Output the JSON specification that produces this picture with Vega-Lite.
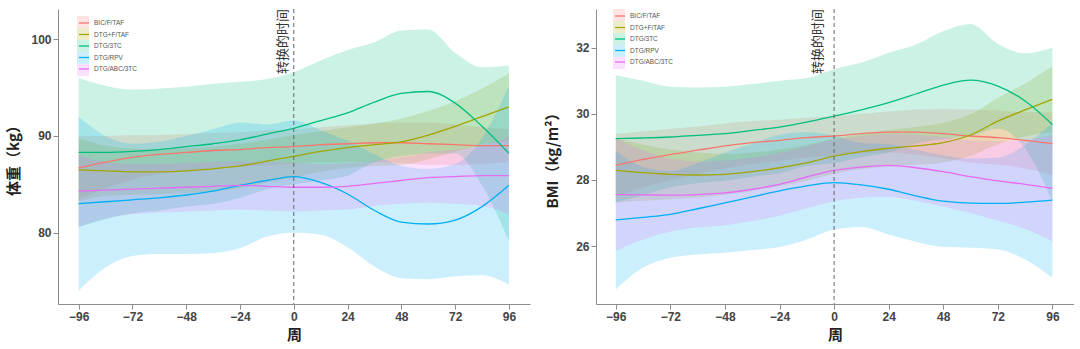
{
"$schema": "https://vega.github.io/schema/vega-lite/v6.json",
"background": "white",
"padding": {"left": 6, "top": 8, "right": 0, "bottom": 0},
"spacing": 15,
"datasets": {
"w": [
{"g":"BIC/F/TAF","wk":-96,"y":86.7,"hi":90.0,"lo":83.4},{"g":"BIC/F/TAF","wk":-84,"y":87.3,"hi":90.0,"lo":84.6},{"g":"BIC/F/TAF","wk":-72,"y":87.8,"hi":90.1,"lo":85.5},{"g":"BIC/F/TAF","wk":-60,"y":88.1,"hi":90.1,"lo":86.1},{"g":"BIC/F/TAF","wk":-48,"y":88.3,"hi":90.2,"lo":86.4},{"g":"BIC/F/TAF","wk":-36,"y":88.5,"hi":90.3,"lo":86.7},{"g":"BIC/F/TAF","wk":-24,"y":88.6,"hi":90.4,"lo":86.8},{"g":"BIC/F/TAF","wk":-12,"y":88.8,"hi":90.6,"lo":87.0},{"g":"BIC/F/TAF","wk":0,"y":88.9,"hi":90.7,"lo":87.1},{"g":"BIC/F/TAF","wk":12,"y":89.1,"hi":90.9,"lo":87.3},{"g":"BIC/F/TAF","wk":24,"y":89.2,"hi":91.1,"lo":87.3},{"g":"BIC/F/TAF","wk":36,"y":89.3,"hi":91.3,"lo":87.3},{"g":"BIC/F/TAF","wk":48,"y":89.3,"hi":91.4,"lo":87.2},{"g":"BIC/F/TAF","wk":60,"y":89.2,"hi":91.4,"lo":87.0},{"g":"BIC/F/TAF","wk":72,"y":89.1,"hi":91.2,"lo":87.0},{"g":"BIC/F/TAF","wk":84,"y":89.0,"hi":90.9,"lo":87.1},{"g":"BIC/F/TAF","wk":96,"y":89.0,"hi":90.7,"lo":87.3},
{"g":"DTG+F/TAF","wk":-96,"y":86.5,"hi":89.8,"lo":83.2},{"g":"DTG+F/TAF","wk":-84,"y":86.4,"hi":89.0,"lo":83.8},{"g":"DTG+F/TAF","wk":-72,"y":86.3,"hi":88.7,"lo":83.9},{"g":"DTG+F/TAF","wk":-60,"y":86.3,"hi":88.6,"lo":84.0},{"g":"DTG+F/TAF","wk":-48,"y":86.4,"hi":88.7,"lo":84.1},{"g":"DTG+F/TAF","wk":-36,"y":86.6,"hi":88.9,"lo":84.3},{"g":"DTG+F/TAF","wk":-24,"y":86.9,"hi":89.2,"lo":84.6},{"g":"DTG+F/TAF","wk":-12,"y":87.4,"hi":89.6,"lo":85.2},{"g":"DTG+F/TAF","wk":0,"y":87.9,"hi":90.1,"lo":85.7},{"g":"DTG+F/TAF","wk":12,"y":88.4,"hi":90.5,"lo":86.3},{"g":"DTG+F/TAF","wk":24,"y":88.8,"hi":90.9,"lo":86.7},{"g":"DTG+F/TAF","wk":36,"y":89.1,"hi":91.3,"lo":86.9},{"g":"DTG+F/TAF","wk":48,"y":89.4,"hi":91.8,"lo":87.0},{"g":"DTG+F/TAF","wk":60,"y":90.1,"hi":92.6,"lo":87.6},{"g":"DTG+F/TAF","wk":72,"y":91.0,"hi":93.6,"lo":88.4},{"g":"DTG+F/TAF","wk":84,"y":92.0,"hi":94.9,"lo":89.1},{"g":"DTG+F/TAF","wk":96,"y":93.0,"hi":96.5,"lo":89.5},
{"g":"DTG/3TC","wk":-96,"y":88.3,"hi":96.0,"lo":80.6},{"g":"DTG/3TC","wk":-84,"y":88.3,"hi":95.2,"lo":81.4},{"g":"DTG/3TC","wk":-72,"y":88.4,"hi":94.8,"lo":82.0},{"g":"DTG/3TC","wk":-60,"y":88.6,"hi":94.9,"lo":82.3},{"g":"DTG/3TC","wk":-48,"y":88.9,"hi":95.1,"lo":82.7},{"g":"DTG/3TC","wk":-36,"y":89.2,"hi":95.4,"lo":83.0},{"g":"DTG/3TC","wk":-24,"y":89.6,"hi":95.6,"lo":83.6},{"g":"DTG/3TC","wk":-12,"y":90.2,"hi":95.9,"lo":84.5},{"g":"DTG/3TC","wk":0,"y":90.8,"hi":96.6,"lo":85.0},{"g":"DTG/3TC","wk":12,"y":91.6,"hi":97.8,"lo":85.4},{"g":"DTG/3TC","wk":24,"y":92.4,"hi":98.9,"lo":85.9},{"g":"DTG/3TC","wk":36,"y":93.5,"hi":99.7,"lo":87.3},{"g":"DTG/3TC","wk":48,"y":94.4,"hi":100.9,"lo":87.9},{"g":"DTG/3TC","wk":60,"y":94.6,"hi":101.0,"lo":88.2},{"g":"DTG/3TC","wk":72,"y":93.4,"hi":98.6,"lo":88.2},{"g":"DTG/3TC","wk":84,"y":91.0,"hi":97.1,"lo":84.9},{"g":"DTG/3TC","wk":96,"y":88.2,"hi":97.3,"lo":79.1},
{"g":"DTG/RPV","wk":-96,"y":83.0,"hi":92.0,"lo":74.0},{"g":"DTG/RPV","wk":-84,"y":83.2,"hi":90.0,"lo":76.4},{"g":"DTG/RPV","wk":-72,"y":83.4,"hi":89.2,"lo":77.6},{"g":"DTG/RPV","wk":-60,"y":83.6,"hi":89.4,"lo":77.8},{"g":"DTG/RPV","wk":-48,"y":83.9,"hi":90.0,"lo":77.8},{"g":"DTG/RPV","wk":-36,"y":84.3,"hi":90.7,"lo":77.9},{"g":"DTG/RPV","wk":-24,"y":84.9,"hi":91.4,"lo":78.4},{"g":"DTG/RPV","wk":-12,"y":85.4,"hi":91.2,"lo":79.6},{"g":"DTG/RPV","wk":0,"y":85.8,"hi":91.6,"lo":80.0},{"g":"DTG/RPV","wk":12,"y":85.2,"hi":90.6,"lo":79.8},{"g":"DTG/RPV","wk":24,"y":84.0,"hi":89.5,"lo":78.5},{"g":"DTG/RPV","wk":36,"y":82.3,"hi":88.1,"lo":76.5},{"g":"DTG/RPV","wk":48,"y":81.1,"hi":86.9,"lo":75.3},{"g":"DTG/RPV","wk":60,"y":80.9,"hi":86.6,"lo":75.2},{"g":"DTG/RPV","wk":72,"y":81.3,"hi":87.1,"lo":75.5},{"g":"DTG/RPV","wk":84,"y":82.7,"hi":89.8,"lo":75.6},{"g":"DTG/RPV","wk":96,"y":84.9,"hi":95.2,"lo":74.6},
{"g":"DTG/ABC/3TC","wk":-96,"y":84.3,"hi":88.0,"lo":80.6},{"g":"DTG/ABC/3TC","wk":-84,"y":84.4,"hi":87.3,"lo":81.5},{"g":"DTG/ABC/3TC","wk":-72,"y":84.5,"hi":87.1,"lo":81.9},{"g":"DTG/ABC/3TC","wk":-60,"y":84.6,"hi":87.1,"lo":82.1},{"g":"DTG/ABC/3TC","wk":-48,"y":84.7,"hi":87.2,"lo":82.2},{"g":"DTG/ABC/3TC","wk":-36,"y":84.8,"hi":87.3,"lo":82.3},{"g":"DTG/ABC/3TC","wk":-24,"y":84.9,"hi":87.4,"lo":82.4},{"g":"DTG/ABC/3TC","wk":-12,"y":84.8,"hi":87.3,"lo":82.3},{"g":"DTG/ABC/3TC","wk":0,"y":84.7,"hi":87.2,"lo":82.2},{"g":"DTG/ABC/3TC","wk":12,"y":84.7,"hi":87.1,"lo":82.3},{"g":"DTG/ABC/3TC","wk":24,"y":84.8,"hi":87.2,"lo":82.4},{"g":"DTG/ABC/3TC","wk":36,"y":85.1,"hi":87.4,"lo":82.8},{"g":"DTG/ABC/3TC","wk":48,"y":85.4,"hi":87.8,"lo":83.0},{"g":"DTG/ABC/3TC","wk":60,"y":85.7,"hi":88.3,"lo":83.1},{"g":"DTG/ABC/3TC","wk":72,"y":85.8,"hi":88.6,"lo":83.0},{"g":"DTG/ABC/3TC","wk":84,"y":85.9,"hi":89.0,"lo":82.8},{"g":"DTG/ABC/3TC","wk":96,"y":85.9,"hi":89.9,"lo":81.9}
],
"b": [
{"g":"BIC/F/TAF","wk":-96,"y":28.44,"hi":29.39,"lo":27.49},{"g":"BIC/F/TAF","wk":-84,"y":28.62,"hi":29.47,"lo":27.77},{"g":"BIC/F/TAF","wk":-72,"y":28.77,"hi":29.55,"lo":27.99},{"g":"BIC/F/TAF","wk":-60,"y":28.9,"hi":29.62,"lo":28.18},{"g":"BIC/F/TAF","wk":-48,"y":29.03,"hi":29.71,"lo":28.35},{"g":"BIC/F/TAF","wk":-36,"y":29.13,"hi":29.78,"lo":28.48},{"g":"BIC/F/TAF","wk":-24,"y":29.2,"hi":29.82,"lo":28.58},{"g":"BIC/F/TAF","wk":-12,"y":29.28,"hi":29.88,"lo":28.68},{"g":"BIC/F/TAF","wk":0,"y":29.33,"hi":29.93,"lo":28.73},{"g":"BIC/F/TAF","wk":12,"y":29.4,"hi":30.0,"lo":28.8},{"g":"BIC/F/TAF","wk":24,"y":29.45,"hi":30.07,"lo":28.83},{"g":"BIC/F/TAF","wk":36,"y":29.45,"hi":30.13,"lo":28.77},{"g":"BIC/F/TAF","wk":48,"y":29.4,"hi":30.15,"lo":28.65},{"g":"BIC/F/TAF","wk":60,"y":29.33,"hi":30.13,"lo":28.53},{"g":"BIC/F/TAF","wk":72,"y":29.28,"hi":30.1,"lo":28.46},{"g":"BIC/F/TAF","wk":84,"y":29.2,"hi":30.05,"lo":28.35},{"g":"BIC/F/TAF","wk":96,"y":29.1,"hi":30.05,"lo":28.15},
{"g":"DTG+F/TAF","wk":-96,"y":28.29,"hi":29.26,"lo":27.32},{"g":"DTG+F/TAF","wk":-84,"y":28.22,"hi":29.07,"lo":27.37},{"g":"DTG+F/TAF","wk":-72,"y":28.17,"hi":28.92,"lo":27.42},{"g":"DTG+F/TAF","wk":-60,"y":28.15,"hi":28.83,"lo":27.47},{"g":"DTG+F/TAF","wk":-48,"y":28.17,"hi":28.79,"lo":27.55},{"g":"DTG+F/TAF","wk":-36,"y":28.25,"hi":28.83,"lo":27.67},{"g":"DTG+F/TAF","wk":-24,"y":28.37,"hi":28.92,"lo":27.82},{"g":"DTG+F/TAF","wk":-12,"y":28.52,"hi":29.06,"lo":27.98},{"g":"DTG+F/TAF","wk":0,"y":28.72,"hi":29.25,"lo":28.19},{"g":"DTG+F/TAF","wk":12,"y":28.86,"hi":29.39,"lo":28.33},{"g":"DTG+F/TAF","wk":24,"y":28.96,"hi":29.51,"lo":28.41},{"g":"DTG+F/TAF","wk":36,"y":29.03,"hi":29.6,"lo":28.46},{"g":"DTG+F/TAF","wk":48,"y":29.13,"hi":29.73,"lo":28.53},{"g":"DTG+F/TAF","wk":60,"y":29.36,"hi":29.99,"lo":28.73},{"g":"DTG+F/TAF","wk":72,"y":29.78,"hi":30.48,"lo":29.08},{"g":"DTG+F/TAF","wk":84,"y":30.12,"hi":30.92,"lo":29.32},{"g":"DTG+F/TAF","wk":96,"y":30.44,"hi":31.44,"lo":29.44},
{"g":"DTG/3TC","wk":-96,"y":29.25,"hi":31.17,"lo":27.33},{"g":"DTG/3TC","wk":-84,"y":29.27,"hi":31.0,"lo":27.54},{"g":"DTG/3TC","wk":-72,"y":29.3,"hi":30.82,"lo":27.78},{"g":"DTG/3TC","wk":-60,"y":29.35,"hi":30.8,"lo":27.9},{"g":"DTG/3TC","wk":-48,"y":29.4,"hi":30.82,"lo":27.98},{"g":"DTG/3TC","wk":-36,"y":29.5,"hi":30.9,"lo":28.1},{"g":"DTG/3TC","wk":-24,"y":29.6,"hi":31.0,"lo":28.2},{"g":"DTG/3TC","wk":-12,"y":29.75,"hi":31.08,"lo":28.42},{"g":"DTG/3TC","wk":0,"y":29.93,"hi":31.35,"lo":28.51},{"g":"DTG/3TC","wk":12,"y":30.12,"hi":31.55,"lo":28.69},{"g":"DTG/3TC","wk":24,"y":30.34,"hi":31.85,"lo":28.83},{"g":"DTG/3TC","wk":36,"y":30.6,"hi":32.1,"lo":29.1},{"g":"DTG/3TC","wk":48,"y":30.87,"hi":32.5,"lo":29.24},{"g":"DTG/3TC","wk":60,"y":31.02,"hi":32.72,"lo":29.32},{"g":"DTG/3TC","wk":72,"y":30.84,"hi":32.12,"lo":29.56},{"g":"DTG/3TC","wk":84,"y":30.39,"hi":31.83,"lo":28.95},{"g":"DTG/3TC","wk":96,"y":29.68,"hi":32.0,"lo":27.36},
{"g":"DTG/RPV","wk":-96,"y":26.79,"hi":28.89,"lo":24.69},{"g":"DTG/RPV","wk":-84,"y":26.87,"hi":28.39,"lo":25.35},{"g":"DTG/RPV","wk":-72,"y":26.96,"hi":28.27,"lo":25.65},{"g":"DTG/RPV","wk":-60,"y":27.13,"hi":28.51,"lo":25.75},{"g":"DTG/RPV","wk":-48,"y":27.31,"hi":28.82,"lo":25.8},{"g":"DTG/RPV","wk":-36,"y":27.49,"hi":29.1,"lo":25.88},{"g":"DTG/RPV","wk":-24,"y":27.67,"hi":29.37,"lo":25.97},{"g":"DTG/RPV","wk":-12,"y":27.82,"hi":29.44,"lo":26.2},{"g":"DTG/RPV","wk":0,"y":27.92,"hi":29.34,"lo":26.5},{"g":"DTG/RPV","wk":12,"y":27.85,"hi":29.12,"lo":26.58},{"g":"DTG/RPV","wk":24,"y":27.72,"hi":29.09,"lo":26.35},{"g":"DTG/RPV","wk":36,"y":27.52,"hi":28.91,"lo":26.13},{"g":"DTG/RPV","wk":48,"y":27.36,"hi":28.75,"lo":25.97},{"g":"DTG/RPV","wk":60,"y":27.3,"hi":28.65,"lo":25.95},{"g":"DTG/RPV","wk":72,"y":27.29,"hi":28.68,"lo":25.9},{"g":"DTG/RPV","wk":84,"y":27.33,"hi":29.06,"lo":25.6},{"g":"DTG/RPV","wk":96,"y":27.39,"hi":29.74,"lo":25.04},
{"g":"DTG/ABC/3TC","wk":-96,"y":27.56,"hi":29.26,"lo":25.86},{"g":"DTG/ABC/3TC","wk":-84,"y":27.55,"hi":28.9,"lo":26.2},{"g":"DTG/ABC/3TC","wk":-72,"y":27.54,"hi":28.64,"lo":26.44},{"g":"DTG/ABC/3TC","wk":-60,"y":27.56,"hi":28.56,"lo":26.56},{"g":"DTG/ABC/3TC","wk":-48,"y":27.61,"hi":28.59,"lo":26.63},{"g":"DTG/ABC/3TC","wk":-36,"y":27.72,"hi":28.68,"lo":26.76},{"g":"DTG/ABC/3TC","wk":-24,"y":27.87,"hi":28.82,"lo":26.92},{"g":"DTG/ABC/3TC","wk":-12,"y":28.09,"hi":29.03,"lo":27.15},{"g":"DTG/ABC/3TC","wk":0,"y":28.29,"hi":29.22,"lo":27.36},{"g":"DTG/ABC/3TC","wk":12,"y":28.39,"hi":29.32,"lo":27.46},{"g":"DTG/ABC/3TC","wk":24,"y":28.44,"hi":29.39,"lo":27.49},{"g":"DTG/ABC/3TC","wk":36,"y":28.37,"hi":29.37,"lo":27.37},{"g":"DTG/ABC/3TC","wk":48,"y":28.25,"hi":29.3,"lo":27.2},{"g":"DTG/ABC/3TC","wk":60,"y":28.1,"hi":29.2,"lo":27.0},{"g":"DTG/ABC/3TC","wk":72,"y":27.97,"hi":29.17,"lo":26.77},{"g":"DTG/ABC/3TC","wk":84,"y":27.87,"hi":29.22,"lo":26.52},{"g":"DTG/ABC/3TC","wk":96,"y":27.75,"hi":29.35,"lo":26.15}
]
},
"hconcat": [
{
"width": 472, "height": 295,
"data": {"name": "w"},
"layer": [
{"mark": {"type": "area", "interpolate": "monotone", "fillOpacity": 0.2},
 "encoding": {
  "x": {"field": "wk", "type": "quantitative", "scale": {"domain": [-105.2, 105.4], "nice": false, "zero": false}, "axis": {"values": [-96,-72,-48,-24,0,24,48,72,96], "title": "周"}},
  "y": {"field": "lo", "type": "quantitative", "scale": {"domain": [72.63, 103.13], "nice": false, "zero": false}, "axis": {"values": [80, 90, 100], "title": "体重（kg）", "titlePadding": 9}},
  "y2": {"field": "hi"},
  "fill": {"field": "g", "type": "nominal", "sort": ["BIC/F/TAF","DTG+F/TAF","DTG/3TC","DTG/RPV","DTG/ABC/3TC"], "scale": {"range": ["#F8766D","#A3A500","#00BF7D","#00B0F6","#E76BF3"]},
   "legend": {"orient": "none", "legendX": 19, "legendY": 7, "title": null, "symbolType": "square", "symbolSize": 144, "symbolOpacity": 0.2, "symbolStrokeWidth": 0, "labelOpacity": 0, "labelFontSize": 0.5, "rowPadding": 0, "padding": 0}}
 }},
{"mark": {"type": "line", "interpolate": "monotone", "strokeWidth": 1.3},
 "encoding": {
  "x": {"field": "wk", "type": "quantitative"},
  "y": {"field": "y", "type": "quantitative"},
  "stroke": {"field": "g", "type": "nominal", "scale": {"domain": ["BIC/F/TAF","DTG+F/TAF","DTG/3TC","DTG/RPV","DTG/ABC/3TC"], "range": ["#F8766D","#A3A500","#00BF7D","#00B0F6","#E76BF3"]},
   "legend": {"orient": "none", "legendX": 20, "legendY": 8, "title": null, "symbolType": "stroke", "symbolSize": 100, "symbolStrokeWidth": 1.3, "labelFontSize": 6.5, "labelColor": "#555", "labelFont": "Liberation Sans", "labelOffset": 4, "rowPadding": 1.5, "padding": 0}}
 }},
{"data": {"values": [{}]}, "mark": {"type": "rule", "strokeDash": [4, 3], "color": "#666", "strokeWidth": 1},
 "encoding": {"x": {"datum": 0}}},
{"data": {"values": [{}]}, "mark": {"type": "text", "angle": 270, "align": "right", "baseline": "middle", "font": "Noto Sans CJK SC", "fontSize": 13, "color": "#333"},
 "encoding": {"x": {"datum": -5}, "y": {"datum": 103.13}, "text": {"value": "转换的时间"}}}
]
},
{
"width": 478, "height": 295,
"data": {"name": "b"},
"layer": [
{"mark": {"type": "area", "interpolate": "monotone", "fillOpacity": 0.2},
 "encoding": {
  "x": {"field": "wk", "type": "quantitative", "scale": {"domain": [-104.7, 105.5], "nice": false, "zero": false}, "axis": {"values": [-96,-72,-48,-24,0,24,48,72,96], "title": "周"}},
  "y": {"field": "lo", "type": "quantitative", "scale": {"domain": [24.25, 33.17], "nice": false, "zero": false}, "axis": {"values": [26, 28, 30, 32], "title": "BMI（kg/m²）", "titlePadding": 15}},
  "y2": {"field": "hi"},
  "fill": {"field": "g", "type": "nominal", "sort": ["BIC/F/TAF","DTG+F/TAF","DTG/3TC","DTG/RPV","DTG/ABC/3TC"], "scale": {"range": ["#F8766D","#A3A500","#00BF7D","#00B0F6","#E76BF3"]},
   "legend": {"orient": "none", "legendX": 17, "legendY": 0, "title": null, "symbolType": "square", "symbolSize": 144, "symbolOpacity": 0.2, "symbolStrokeWidth": 0, "labelOpacity": 0, "labelFontSize": 0.5, "rowPadding": 0, "padding": 0}}
 }},
{"mark": {"type": "line", "interpolate": "monotone", "strokeWidth": 1.3},
 "encoding": {
  "x": {"field": "wk", "type": "quantitative"},
  "y": {"field": "y", "type": "quantitative"},
  "stroke": {"field": "g", "type": "nominal", "scale": {"domain": ["BIC/F/TAF","DTG+F/TAF","DTG/3TC","DTG/RPV","DTG/ABC/3TC"], "range": ["#F8766D","#A3A500","#00BF7D","#00B0F6","#E76BF3"]},
   "legend": {"orient": "none", "legendX": 18, "legendY": 1, "title": null, "symbolType": "stroke", "symbolSize": 100, "symbolStrokeWidth": 1.3, "labelFontSize": 6.5, "labelColor": "#555", "labelFont": "Liberation Sans", "labelOffset": 4, "rowPadding": 1.5, "padding": 0}}
 }},
{"data": {"values": [{}]}, "mark": {"type": "rule", "strokeDash": [4, 3], "color": "#666", "strokeWidth": 1},
 "encoding": {"x": {"datum": 0}}},
{"data": {"values": [{}]}, "mark": {"type": "text", "angle": 270, "align": "right", "baseline": "middle", "font": "Noto Sans CJK SC", "fontSize": 13, "color": "#333"},
 "encoding": {"x": {"datum": -7}, "y": {"datum": 33.17}, "text": {"value": "转换的时间"}}}
]
}
],
"resolve": {"scale": {"fill": "independent", "stroke": "independent"}},
"config": {
 "view": {"stroke": null},
 "axis": {"grid": false, "domainColor": "#8c8c8c", "tickColor": "#8c8c8c", "tickSize": 5, "labelPadding": 2, "labelFont": "Liberation Sans", "labelFontSize": 12, "labelFontWeight": "bold", "labelColor": "#444", "titleFont": "Noto Sans CJK SC", "titleFontSize": 15, "titleFontWeight": "bold", "titleColor": "#222"},
 "axisX": {"titlePadding": 5, "labelFlush": false},
 "axisY": {"labelFlush": false}
}
}
